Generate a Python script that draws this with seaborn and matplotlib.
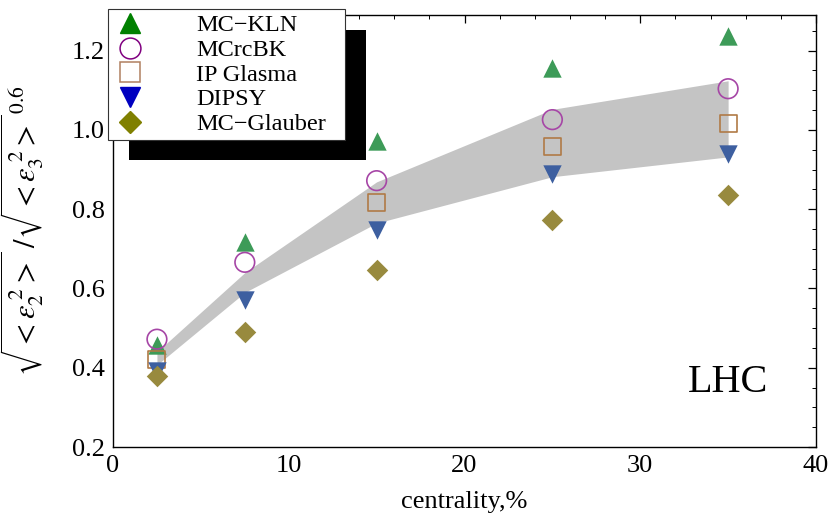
import numpy as np
import pandas as pd
import matplotlib
matplotlib.use("Agg")
import matplotlib.pyplot as plt
from matplotlib.lines import Line2D
from matplotlib.patches import Rectangle
from matplotlib.ticker import MultipleLocator
import seaborn as sns

# ---- data ----
centrality = [2.5, 7.5, 15, 25, 35]
mc_kln = [0.457, 0.716, 0.973, 1.157, 1.237]
mc_rcbk = [0.472, 0.666, 0.872, 1.026, 1.104]
ip_glasma = [0.422, np.nan, 0.817, 0.959, 1.016]
dipsy = [0.392, 0.571, 0.747, 0.889, 0.939]
mc_glauber = [0.379, 0.490, 0.646, 0.772, 0.836]
band_low = [0.407, 0.590, 0.765, 0.882, 0.932]
band_high = [0.440, 0.640, 0.869, 1.052, 1.124]
series_names = ["MC\u2212KLN", "MCrcBK", "IP Glasma", "DIPSY", "MC\u2212Glauber"]

sns.set_theme(style="white")
plt.rcParams["font.family"] = ["Liberation Serif", "DejaVu Serif"]
plt.rcParams["mathtext.fontset"] = "stix"
plt.rcParams["text.color"] = "black"
plt.rcParams["axes.labelcolor"] = "black"
plt.rcParams["xtick.color"] = "black"
plt.rcParams["ytick.color"] = "black"

fig = plt.figure(figsize=(8.33, 5.19), dpi=100)
ax = fig.add_axes([113/833, 1-447/519, (816-113)/833, (447-15)/519])

ax.fill_between(centrality, band_low, band_high, color="#c4c4c4", lw=0, zorder=1)

def scat(y, marker, s, face, edge, lw=0):
    df = pd.DataFrame({"x": centrality, "y": y}).dropna()
    sns.scatterplot(data=df, x="x", y="y", ax=ax, marker=marker, s=s,
                    color=face, edgecolor=edge, linewidth=lw, zorder=3, legend=False)

scat(mc_kln, "^", 175, "#3d9b58", "#3d9b58")
scat(mc_rcbk, "o", 200, "none", "#a646a6", 1.2)
scat(ip_glasma, "s", 150, "none", "#b07a46", 1.2)
scat(dipsy, "v", 175, "#3d5fa0", "#3d5fa0")
scat(mc_glauber, "D", 120, "#988a3e", "#988a3e")

ax.set_xlim(0, 40)
ax.set_ylim(0.2, 1.29)
ax.xaxis.set_minor_locator(MultipleLocator(2))
ax.yaxis.set_minor_locator(MultipleLocator(0.05))
ax.set_xticks([0, 10, 20, 30, 40])
ax.set_xticklabels(["0", "10", "20", "30", "40"])
ax.set_yticks([0.2, 0.4, 0.6, 0.8, 1.0, 1.2])
ax.set_yticklabels(["0.2", "0.4", "0.6", "0.8", "1.0", "1.2"])
ax.tick_params(which="both", direction="in", top=True, right=True,
               labelsize=19, colors="black", labelcolor="black", pad=6)
ax.tick_params(which="major", length=6, width=0.9)
ax.tick_params(which="minor", length=3, width=0.7)
for sp in ax.spines.values():
    sp.set_color("black")
    sp.set_linewidth(1.0)

ax.set_xlabel("centrality,%", fontsize=19, labelpad=10, color="black")
ax.set_ylabel(r"$\sqrt{<\varepsilon_2^{\;2}>}\;/\sqrt{<\varepsilon_3^{\;2}>}^{\,0.6}$",
              fontsize=22, color="black")
ax.yaxis.set_label_coords(-0.095, 0.5)

ax.text(32.7, 0.364, "LHC", fontsize=29, va="center", ha="left", color="black")

# legend with custom handles (darker colors)
handles = [
    Line2D([], [], ls="none", marker="^", ms=15, mfc="#008000", mec="#008000"),
    Line2D([], [], ls="none", marker="o", ms=15, mfc="none", mec="#800080", mew=1.1),
    Line2D([], [], ls="none", marker="s", ms=14, mfc="none", mec="#b08060", mew=1.1),
    Line2D([], [], ls="none", marker="v", ms=15, mfc="#0000c0", mec="#0000c0"),
    Line2D([], [], ls="none", marker="D", ms=11, mfc="#808000", mec="#808000"),
]
shadow = Rectangle((129/833, 1-160/519), (366-129)/833, (160-30)/519,
                   transform=fig.transFigure, facecolor="black", edgecolor="none",
                   zorder=4)
fig.patches.append(shadow)
leg = fig.legend(handles, series_names, loc="upper left",
                 bbox_to_anchor=(108/833, 1-137/519, 237/833, 128/519),
                 bbox_transform=fig.transFigure, mode="expand",
                 borderaxespad=0, fontsize=17.5, frameon=True, fancybox=False,
                 framealpha=1, edgecolor="#333333", handlelength=1.4,
                 handletextpad=2.0, labelspacing=0.11, borderpad=0.22)
leg.get_frame().set_linewidth(0.8)
for t in leg.get_texts():
    t.set_color("black")
leg.set_zorder(5)

fig.savefig("out.png", dpi=100)
